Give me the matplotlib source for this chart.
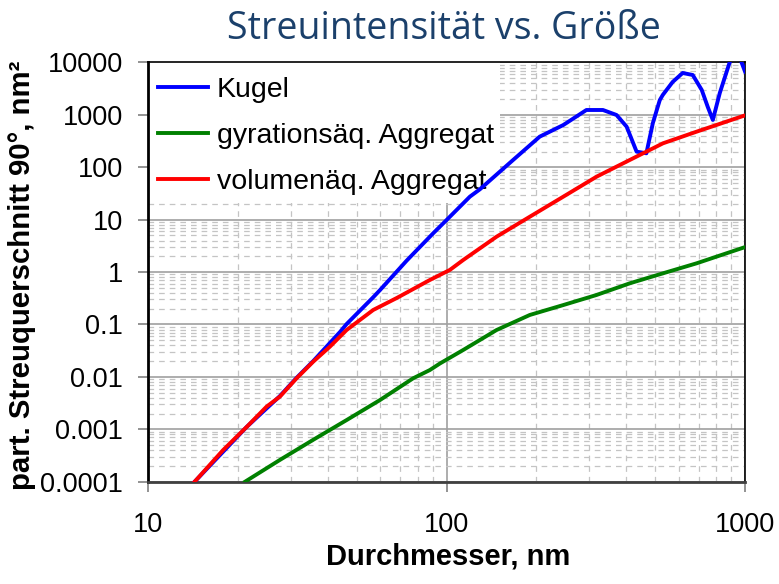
import matplotlib
matplotlib.use("Agg")
import matplotlib.pyplot as plt
from matplotlib.patches import Rectangle
from matplotlib.ticker import LogLocator, FixedLocator, NullFormatter

# Durchmesser [nm] und Streuquerschnitt [nm²] der drei Modelle
d_kugel = [14.3, 21.4, 27.6, 31.4, 35.7, 43.9, 46.2, 56.7, 59.7, 73.4, 90.1, 100,
           119.6, 129.2, 167, 205, 246, 294, 334, 371, 401, 433, 467, 491, 518,
           530, 572, 618, 668, 716, 750, 780, 823, 889, 940, 1000]
s_kugel = [1e-4, 1.12e-3, 4.3e-3, 9.6e-3, 0.02, 0.072, 0.102, 0.33, 0.45, 1.65,
           5.5, 9.9, 27.5, 38, 138, 384, 641, 1240, 1240, 995, 596, 199, 185,
           700, 1920, 2400, 4250, 6310, 5770, 2990, 1420, 800, 2620, 10230,
           17000, 6700]

d_gyr = [21.1, 27.6, 35.7, 46.2, 59.7, 77.2, 87.8, 94.9, 113.6, 147, 190, 246,
         318, 411, 531, 688, 1000]
s_gyr = [1e-4, 2.6e-4, 6.3e-4, 1.5e-3, 3.6e-3, 9.4e-3, 0.0135, 0.018, 0.0326,
         0.0785, 0.152, 0.235, 0.366, 0.611, 0.948, 1.47, 3.0]

d_vol = [14.3, 17.8, 21.4, 24.9, 27.6, 31.4, 35.7, 40.6, 46.2, 53.9, 56.7, 68,
         87.8, 102.5, 113.6, 147, 190, 246, 318, 411, 531, 688, 1000]
s_vol = [1e-4, 4.0e-4, 1.12e-3, 2.7e-3, 4.2e-3, 9.4e-3, 0.0195, 0.0377, 0.0785,
         0.152, 0.189, 0.32, 0.706, 1.1, 1.7, 4.74, 11.4, 27.5, 66.2, 138, 287,
         478, 980]

y_ticks = [1e-4, 1e-3, 1e-2, 1e-1, 1, 10, 100, 1000, 10000]
y_labels = ["0.0001", "0.001", "0.01", "0.1", "1", "10", "100", "1000", "10000"]
x_ticks = [10, 100, 1000]
x_labels = ["10", "100", "1000"]

plt.rcParams["font.family"] = ["Liberation Sans", "DejaVu Sans"]

fig = plt.figure(figsize=(7.79, 5.84), dpi=100)
ax = fig.add_axes([0.1904, 0.1752, 0.766, 0.7178])

ax.plot(d_kugel, s_kugel, color="#0000FF", lw=2.8, label="Kugel", zorder=3)
ax.plot(d_gyr, s_gyr, color="#008000", lw=2.8, label="gyrationsäq. Aggregat", zorder=3)
ax.plot(d_vol, s_vol, color="#FF0000", lw=2.8, label="volumenäq. Aggregat", zorder=3)

ax.set_xscale("log")
ax.set_yscale("log")
ax.set_xlim(10, 1000)
ax.set_ylim(1e-4, 1e4)

ax.xaxis.set_major_locator(FixedLocator(x_ticks))
ax.set_xticklabels(x_labels)
ax.yaxis.set_major_locator(FixedLocator(y_ticks))
ax.set_yticklabels(y_labels)
ax.xaxis.set_minor_locator(LogLocator(base=10, subs=range(2, 10), numticks=20))
ax.yaxis.set_minor_locator(LogLocator(base=10, subs=range(2, 10), numticks=20))
ax.xaxis.set_minor_formatter(NullFormatter())
ax.yaxis.set_minor_formatter(NullFormatter())

ax.set_axisbelow(True)
ax.grid(which="major", color="#a0a0a0", lw=1.2, ls="-")
ax.grid(which="minor", color="#c4c4c4", lw=0.9, ls=(0, (4.5, 4)))

ax.tick_params(which="major", length=7, width=1.2, color="#808080",
               labelsize=19.5, pad=11)
ax.tick_params(axis="x", which="major", pad=15)
ax.tick_params(which="minor", length=0)

ax.spines["left"].set_linewidth(2)
ax.spines["left"].set_color("black")
ax.spines["bottom"].set_linewidth(2)
ax.spines["bottom"].set_color("#404040")
ax.spines["top"].set_linewidth(1.2)
ax.spines["right"].set_linewidth(1.2)

# weißer Hintergrund hinter der Legende
ax.add_patch(Rectangle((0, 0.665), 0.589, 0.335, transform=ax.transAxes,
                       facecolor="white", edgecolor="none", zorder=1))
leg = ax.legend(loc="upper left", bbox_to_anchor=(-0.008, 1.0), frameon=False,
                fontsize=20.5, handlelength=1.75, handletextpad=0.3,
                labelspacing=0.69, borderaxespad=0.12)
leg.set_zorder(2)

fig.text(0.57, 0.950, "Streuintensität vs. Größe", ha="center", va="center",
         fontsize=27, color="#1B406B", family=["Open Sans", "DejaVu Sans"])
fig.text(0.575, 0.047, "Durchmesser, nm", ha="center", va="center",
         fontsize=21, fontweight="bold")
fig.text(0.028, 0.529, "part. Streuquerschnitt 90°, nm²", ha="center",
         va="center", rotation=90, fontsize=21.2, fontweight="bold")

fig.savefig("out.png", dpi=100)
